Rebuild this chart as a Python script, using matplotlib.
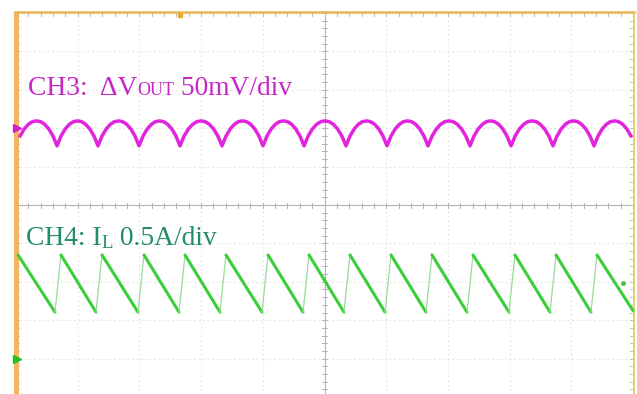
import matplotlib
matplotlib.use('Agg')
import matplotlib.pyplot as plt

W, H = 637, 394
PX_X, PX_Y = 61.7, 38.4          # pixels per division
X0_PX, Y0_PX = 16, 205           # screen origin (left edge, centre line)

# ---------------- data (screen divisions) ----------------
vout_trough_t = [0.0, 0.665, 1.329, 1.994, 2.658, 3.339, 4.003, 4.668, 5.348,
                 6.013, 6.677, 7.358, 8.023, 8.703, 9.368, 10.033]
vout_phase = [0.0, 0.1, 0.2, 0.3, 0.4, 0.5, 0.6, 0.7, 0.8, 0.9, 1.0]
vout_shape = [1.54, 1.80, 1.98, 2.10, 2.17, 2.19, 2.17, 2.10, 1.98, 1.80, 1.54]

# CH4 inductor current sawtooth
il_peak_t = [0.032, 0.729, 1.394, 2.074, 2.739, 3.403, 4.084, 4.749, 5.413,
             6.078, 6.742, 7.407, 8.087, 8.752, 9.416]
il_trough_t = [0.632, 1.297, 1.977, 2.642, 3.306, 3.987, 4.652, 5.316, 5.981,
               6.645, 7.310, 7.990, 8.655, 9.319]
il_peak_v = -1.30
il_trough_v = -2.79
il_end = (10.0, -2.75)

ch3_label = ["CH3:  \u0394V", "OUT", " 50mV/div"]
ch4_label = ["CH4: I", "L", " 0.5A/div"]

# ---------------- figure ----------------
fig = plt.figure(figsize=(W / 100, H / 100), dpi=100)
ax = fig.add_axes([0, 0, 1, 1])
ax.set_xlim(-X0_PX / PX_X, 10 + (W - X0_PX - 10 * PX_X) / PX_X)
ax.set_ylim(-(H - Y0_PX) / PX_Y, Y0_PX / PX_Y)
ax.axis('off')
fig.patch.set_facecolor('white')

# graticule
gcol = '#e2e2e2'
for i in range(1, 10):
    if i != 5:
        ax.plot([i, i], [-5, 5], color=gcol, lw=0.8, ls=(0, (1.5, 2.5)), zorder=1)
for j in range(-4, 5):
    if j != 0:
        ax.plot([0, 10], [j, j], color=gcol, lw=0.8, ls=(0, (1.5, 2.5)), zorder=1)
ccol = '#b4b4b4'
ax.plot([0, 10], [0, 0], color=ccol, lw=0.8, zorder=1)
ax.plot([5, 5], [-5, 5], color=ccol, lw=0.8, zorder=1)
hx = 2.5 / PX_X
hy = 2.5 / PX_Y
k = 0
while k <= 50:
    xv = k * 0.2
    ax.plot([xv, xv], [-hy, hy], color=ccol, lw=0.7, zorder=1)
    ax.plot([xv, xv], [5, 5 - 1.3 * hy], color='#c0c0c0', lw=0.7, zorder=1)
    yv = -5 + k * 0.2
    ax.plot([5 - hx, 5 + hx], [yv, yv], color=ccol, lw=0.7, zorder=1)
    ax.plot([0, 1.3 * hx], [yv, yv], color='#c0c0c0', lw=0.7, zorder=1)
    ax.plot([10, 10 - 1.3 * hx], [yv, yv], color='#c0c0c0', lw=0.7, zorder=1)
    k += 1

# frame
ax.plot([0, 0], [-5.2, 5.05], color='#F2B45C', lw=3.6, zorder=2, solid_capstyle='butt')
ax.plot([0, 10.02], [5.02, 5.02], color='#E8B555', lw=1.8, zorder=2)
ax.plot([10.02, 10.02], [-5.2, 5.02], color='#E6CF70', lw=1.4, zorder=2)
ax.plot([(180 - X0_PX) / PX_X], [4.95], marker='s', color='#E8A838', ms=3, zorder=3)

# CH3 trace
vt, vv = [], []
for a, b in zip(vout_trough_t[:-1], vout_trough_t[1:]):
    for p, s in zip(vout_phase, vout_shape):
        t = a + p * (b - a)
        if 0.03 <= t <= 10.0:
            vt.append(t)
            vv.append(s)
ax.plot(vt, vv, color='#E224DE', lw=2.5, solid_joinstyle='round', zorder=4)
ax.plot([0.02], [2.005], marker='>', color='#D81CC8', ms=6, zorder=5)

# CH4 trace
green = '#38CF38'
for i, tr in enumerate(il_trough_t):
    ax.plot([il_peak_t[i], tr], [il_peak_v, il_trough_v], color=green, lw=2.2,
            solid_capstyle='round', zorder=4)
    ax.plot([tr, il_peak_t[i + 1]], [il_trough_v, il_peak_v], color='#98DC98', lw=0.9, zorder=4)
ax.plot([il_peak_t[-1], il_end[0]], [il_peak_v, il_end[1]], color=green, lw=2.2,
        solid_capstyle='round', zorder=4)
ax.plot([0.02], [(Y0_PX - 359) / PX_Y], marker='>', color='#22C022', ms=6, zorder=5)
ax.plot([(623 - X0_PX) / PX_X], [(Y0_PX - 283) / PX_Y], marker='o', color='#44C044', ms=2.5, zorder=5)

# labels
renderer = fig.canvas.get_renderer()


def draw_runs(x_px, base_px, runs):
    x = x_px
    for s, size, color, dy in runs:
        t = fig.text(x / W, 1 - (base_px + dy) / H, s, fontsize=size, color=color,
                     family=['Liberation Serif', 'DejaVu Serif'], va='baseline', ha='left')
        x += t.get_window_extent(renderer=renderer).width


mag = '#C628C6'
draw_runs(28, 95, [(ch3_label[0], 19.8, mag, 0), (ch3_label[1], 13, mag, 0),
                   (ch3_label[2], 19.8, mag, 0)])
teal = '#238C68'
draw_runs(26, 245, [(ch4_label[0], 19.8, teal, 0), (ch4_label[1], 13.5, teal, 3),
                    (ch4_label[2], 19.8, teal, 0)])

fig.savefig('out.png', dpi=100, facecolor='white')
